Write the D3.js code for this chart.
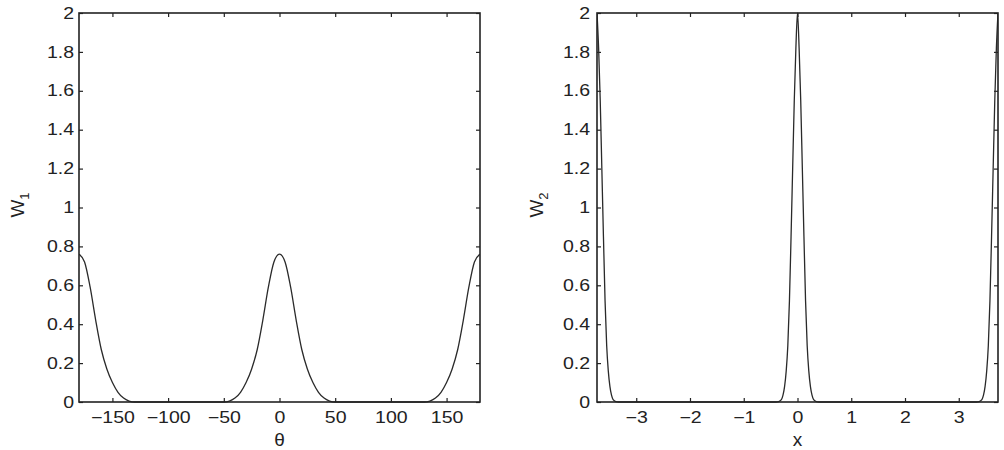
<!DOCTYPE html>
<html>
<head>
<meta charset="utf-8">
<script src="https://cdn.jsdelivr.net/npm/d3@7"></script>
<style>
body { margin: 0; background: #fff; }
svg text { font-family: "Liberation Sans", Arial, Helvetica, sans-serif; fill: #222; }
.tick text { font-size: 16px; transform-box: fill-box; transform: scaleX(1.22); }
.xax .tick text { transform-origin: center; }
.yax .tick text { transform-origin: right; }
.ax path.domain { display: none; }
.ax line { stroke: #222; stroke-width: 1.2; }
</style>
</head>
<body>
<svg id="chart" width="1004" height="450"></svg>
<script>
// left panel: W1 against theta (deg)
var theta = [-180,-175,-170,-165,-160,-155,-150,-145,-140,-135,-130,-125,-120,-115,-110,-105,-100,-95,-90,-85,-80,-75,-70,-65,-60,-55,-50,-45,-40,-35,-30,-25,-20,-15,-10,-5,0,
             5,10,15,20,25,30,35,40,45,50,55,60,65,70,75,80,85,90,95,100,105,110,115,120,125,130,135,140,145,150,155,160,165,170,175,180];
var w1 = [0.76,0.72,0.59,0.42,0.27,0.17,0.10,0.05,0.02,0.005,0,0,0,0,0,0,0,0,0,0,0,0,0,0,0,0,0,0.005,0.02,0.05,0.10,0.17,0.27,0.42,0.59,0.72,0.76,
          0.72,0.59,0.42,0.27,0.17,0.10,0.05,0.02,0.005,0,0,0,0,0,0,0,0,0,0,0,0,0,0,0,0,0,0.005,0.02,0.05,0.10,0.17,0.27,0.42,0.59,0.72,0.76];
var thetaTicks = [-150,-100,-50,0,50,100,150];

// right panel: W2 against x
var xs2 = [-3.73,-3.70,-3.67,-3.64,-3.61,-3.58,-3.55,-3.52,-3.49,-3.46,-3.43,-3.38,-3.33,
           -0.40,-0.35,-0.30,-0.27,-0.24,-0.21,-0.18,-0.15,-0.12,-0.09,-0.06,-0.03,0,
           0.03,0.06,0.09,0.12,0.15,0.18,0.21,0.24,0.27,0.30,0.35,0.40,
           3.33,3.38,3.43,3.46,3.49,3.52,3.55,3.58,3.61,3.64,3.67,3.70,3.73];
var w2 = [2.0,1.82,1.55,1.20,0.85,0.52,0.29,0.16,0.08,0.035,0.012,0.002,0,
          0,0.002,0.012,0.035,0.08,0.16,0.29,0.52,0.85,1.20,1.55,1.82,2.0,
          1.82,1.55,1.20,0.85,0.52,0.29,0.16,0.08,0.035,0.012,0.002,0,
          0,0.002,0.012,0.035,0.08,0.16,0.29,0.52,0.85,1.20,1.55,1.82,2.0];
var xTicks = [-3,-2,-1,0,1,2,3];

var wTicks = [0,0.2,0.4,0.6,0.8,1,1.2,1.4,1.6,1.8,2];

var svg = d3.select("#chart");

function drawPanel(opt, idx) {
  var x = d3.scaleLinear().domain(opt.xdom).range(opt.xrange);
  var y = d3.scaleLinear().domain([0, 2]).range([402, 13]);
  var g = svg.append("g").attr("class", "panel");

  var fmt = function(d){ return d3.format("~g")(d).replace("-", "\u2212"); };

  // bottom axis with labels, ticks pointing in
  g.append("g").attr("class", "ax xax")
    .attr("transform", "translate(0,402)")
    .call(d3.axisBottom(x).tickValues(opt.ticks).tickSize(-4).tickSizeOuter(0).tickPadding(10).tickFormat(fmt));
  // top axis, ticks only
  g.append("g").attr("class", "ax")
    .attr("transform", "translate(0,13)")
    .call(d3.axisTop(x).tickValues(opt.ticks).tickSize(-4).tickSizeOuter(0).tickFormat(""));
  // left axis with labels
  g.append("g").attr("class", "ax yax")
    .attr("transform", "translate(" + opt.xrange[0] + ",0)")
    .call(d3.axisLeft(y).tickValues(wTicks).tickSize(-4).tickSizeOuter(0).tickPadding(opt.ypad).tickFormat(d3.format("~g")));
  // right axis, ticks only
  g.append("g").attr("class", "ax")
    .attr("transform", "translate(" + opt.xrange[1] + ",0)")
    .call(d3.axisRight(y).tickValues(wTicks).tickSize(-4).tickSizeOuter(0).tickFormat(""));

  var clipId = "clip" + idx;
  svg.append("clipPath").attr("id", clipId).append("rect")
    .attr("x", opt.xrange[0]).attr("y", 12)
    .attr("width", opt.xrange[1] - opt.xrange[0]).attr("height", 391);

  var line = d3.line()
    .x(function(d, i){ return x(opt.xs[i]); })
    .y(function(d){ return y(d); })
    .curve(d3.curveMonotoneX);

  g.append("path")
    .datum(opt.ys)
    .attr("clip-path", "url(#" + clipId + ")")
    .attr("d", line)
    .attr("fill", "none")
    .attr("stroke", "#2a2a2a")
    .attr("stroke-width", 1.3);

  // frame
  g.append("rect")
    .attr("x", opt.xrange[0]).attr("y", 13)
    .attr("width", opt.xrange[1] - opt.xrange[0]).attr("height", 389)
    .attr("fill", "none").attr("stroke", "#222").attr("stroke-width", 1.6);

  // x label
  g.append("text")
    .attr("x", x(0)).attr("y", 446)
    .attr("text-anchor", "middle")
    .style("font-size", "19px")
    .text(opt.xlabel);

  // y label with subscript
  var yl = g.append("text")
    .attr("transform", "translate(" + opt.ylabX + ",205) rotate(-90)")
    .attr("text-anchor", "middle")
    .style("font-size", "19px");
  yl.append("tspan").text("W");
  yl.append("tspan").attr("dy", 5).style("font-size", "13px").text(opt.ysub);
}

drawPanel({xdom: [-180, 180], xrange: [79, 480], ticks: thetaTicks, xs: theta, ys: w1,
           xlabel: "\u03b8", ysub: "1", ylabX: 24, ypad: 5}, 0);
drawPanel({xdom: [-3.73, 3.73], xrange: [597, 998], ticks: xTicks, xs: xs2, ys: w2,
           xlabel: "x", ysub: "2", ylabX: 543, ypad: 7}, 1);
</script>
</body>
</html>
